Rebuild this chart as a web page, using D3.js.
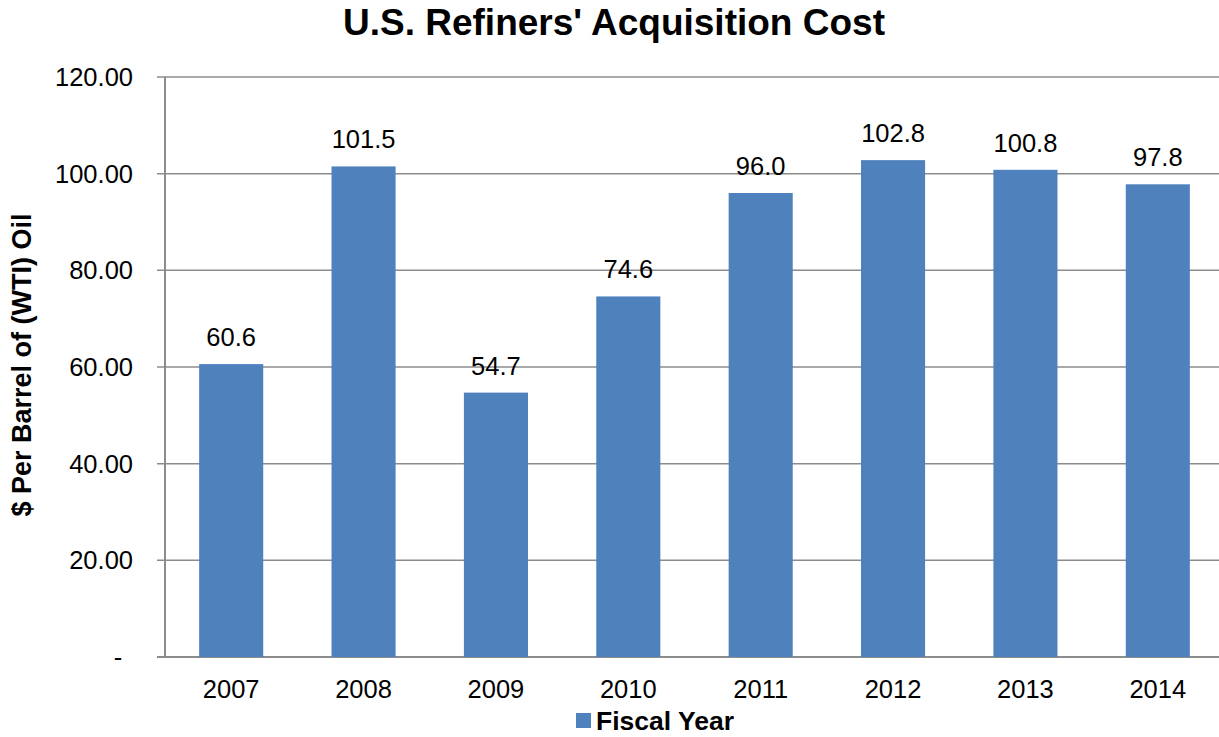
<!DOCTYPE html>
<html>
<head>
<meta charset="utf-8">
<script src="https://cdn.jsdelivr.net/npm/d3@7"></script>
<style>
  body { margin: 0; background: #fff; }
  svg { display: block; font-family: "Liberation Sans", Arial, sans-serif; }
</style>
</head>
<body>
<div id="chart"></div>
<script>
const years = ["2007", "2008", "2009", "2010", "2011", "2012", "2013", "2014"];
const costs = [60.6, 101.5, 54.7, 74.6, 96.0, 102.8, 100.8, 97.8];
const yTicks = [0, 20, 40, 60, 80, 100, 120];

const width = 1219, height = 737;
const margin = { top: 77, right: -5, bottom: 80, left: 165 };

const svg = d3.select("#chart").append("svg")
  .attr("width", width)
  .attr("height", height);

const x = d3.scaleBand()
  .domain(years)
  .range([margin.left, width - margin.right])
  .paddingInner(0.516)
  .paddingOuter(0.258);

const y = d3.scaleLinear()
  .domain([0, 120])
  .range([height - margin.bottom, margin.top]);

// gridlines + tick marks
svg.append("g")
  .selectAll("line")
  .data(yTicks)
  .join("line")
  .attr("x1", margin.left - 8)
  .attr("x2", width)
  .attr("y1", d => y(d))
  .attr("y2", d => y(d))
  .attr("stroke", "#8c8c8c")
  .attr("stroke-width", d => d === 0 ? 2 : 1.5);

// y axis line
svg.append("line")
  .attr("x1", margin.left).attr("x2", margin.left)
  .attr("y1", y(120)).attr("y2", y(0))
  .attr("stroke", "#8c8c8c")
  .attr("stroke-width", 2);

// y tick labels
svg.append("g")
  .selectAll("text")
  .data(yTicks)
  .join("text")
  .attr("x", d => d === 0 ? 118 : 133)
  .attr("y", d => y(d) + 9)
  .attr("text-anchor", d => d === 0 ? "middle" : "end")
  .style("font-size", "25.5px")
  .style("fill", "#000")
  .text(d => d === 0 ? "-" : d3.format(".2f")(d));

// bars
svg.append("g")
  .selectAll("rect")
  .data(costs)
  .join("rect")
  .attr("x", (d, i) => x(years[i]))
  .attr("width", x.bandwidth())
  .attr("y", d => y(d))
  .attr("height", d => y(0) - y(d))
  .attr("fill", "#4f81bd");

// value labels
svg.append("g")
  .selectAll("text")
  .data(costs)
  .join("text")
  .attr("x", (d, i) => x(years[i]) + x.bandwidth() / 2)
  .attr("y", d => y(d) - 18)
  .attr("text-anchor", "middle")
  .style("font-size", "25.5px")
  .text(d => d.toFixed(1));

// x tick labels
svg.append("g")
  .selectAll("text")
  .data(years)
  .join("text")
  .attr("x", d => x(d) + x.bandwidth() / 2)
  .attr("y", 698)
  .attr("text-anchor", "middle")
  .style("font-size", "25.5px")
  .text(d => d);

// title
svg.append("text")
  .attr("x", 614)
  .attr("y", 35)
  .attr("text-anchor", "middle")
  .style("font-size", "37px")
  .style("font-weight", "bold")
  .text("U.S. Refiners' Acquisition Cost");

// y axis title
svg.append("text")
  .attr("transform", "translate(31,365) rotate(-90)")
  .attr("text-anchor", "middle")
  .style("font-size", "27px")
  .style("font-weight", "bold")
  .text("$ Per Barrel of (WTI) Oil");

// legend
svg.append("rect")
  .attr("x", 576).attr("y", 713)
  .attr("width", 15).attr("height", 15)
  .attr("fill", "#4f81bd");
svg.append("text")
  .attr("x", 596)
  .attr("y", 730)
  .style("font-size", "26.5px")
  .style("font-weight", "bold")
  .text("Fiscal Year");
</script>
</body>
</html>
